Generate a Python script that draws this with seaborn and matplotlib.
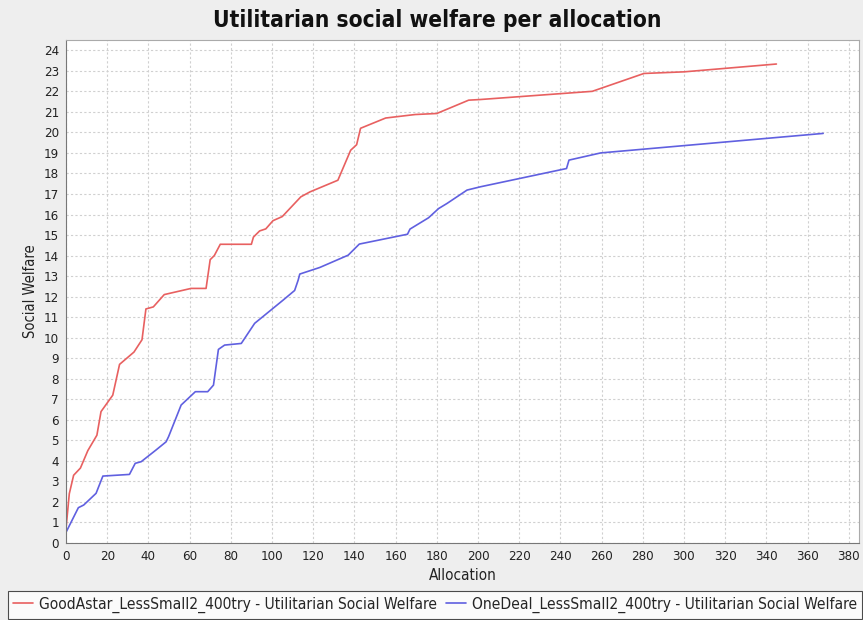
import matplotlib
matplotlib.use("Agg")
import matplotlib.pyplot as plt
import seaborn as sns
import pandas as pd
import numpy as np
from matplotlib.lines import Line2D

# ---- data ----
red_name = "GoodAstar_LessSmall2_400try - Utilitarian Social Welfare"
blue_name = "OneDeal_LessSmall2_400try - Utilitarian Social Welfare"

red_x = [0, 1.6, 3.7, 7, 10.6, 15, 17, 22.7, 26, 33, 36.9, 38.8, 42.4, 47.7, 60.7, 68, 70, 72, 74.9,
         90, 91, 94, 97, 100.5, 105, 114, 118.4, 132, 138.2, 141.1, 143, 155.2, 169.5, 180, 195.5,
         201, 255.5, 280.6, 300.2, 344.9]
red_y = [0.7, 2.4, 3.3, 3.65, 4.5, 5.25, 6.4, 7.2, 8.7, 9.3, 9.9, 11.4, 11.5, 12.1, 12.4, 12.4, 13.8,
         14.0, 14.55, 14.55, 14.9, 15.2, 15.3, 15.7, 15.9, 16.86, 17.1, 17.67, 19.13, 19.4, 20.2, 20.7,
         20.87, 20.92, 21.57, 21.6, 22.0, 22.87, 22.95, 23.33]

blue_x = [0, 6, 8.6, 14.6, 17.9, 30.8, 33.6, 36.5, 43.7, 48.6, 49.8, 55.9, 62.8, 68.8, 71.6, 74, 77,
          85.1, 91.6, 105.4, 111, 112.7, 113.5, 123.2, 137, 142.4, 165.8, 167, 176, 180.9, 185, 194.7,
          201.2, 243, 244.2, 259.6, 367.6]
blue_y = [0.52, 1.72, 1.85, 2.42, 3.26, 3.34, 3.88, 3.96, 4.53, 4.93, 5.18, 6.72, 7.37, 7.37, 7.69,
          9.43, 9.64, 9.72, 10.7, 11.83, 12.3, 12.8, 13.1, 13.42, 14.02, 14.56, 15.04, 15.29, 15.84,
          16.29, 16.54, 17.19, 17.35, 18.24, 18.65, 19.0, 19.95]

x_ticks = list(range(0, 381, 20))
y_ticks = list(range(0, 25, 1))

title = "Utilitarian social welfare per allocation"
x_label = "Allocation"
y_label = "Social Welfare"

df = pd.concat([
    pd.DataFrame({"x": red_x, "y": red_y, "series": red_name}),
    pd.DataFrame({"x": blue_x, "y": blue_y, "series": blue_name}),
], ignore_index=True)

sns.set_theme(style="white")
plt.rcParams['font.family'] = ['DejaVu Sans']
plt.rcParams['font.stretch'] = 'condensed'

bg = "#eeeeee"
fig = plt.figure(figsize=(8.63, 6.20), dpi=100, facecolor=bg)
ax = fig.add_axes([66 / 863, 1 - 543 / 620, (859 - 66) / 863, (543 - 40) / 620])
ax.set_facecolor("white")

palette = {red_name: "#e86060", blue_name: "#6060e0"}
sns.lineplot(data=df, x="x", y="y", hue="series", palette=palette, sort=False,
             estimator=None, linewidth=1.2, ax=ax, legend=False)

ax.set_xlim(0, 385)
ax.set_ylim(0, 24.5)
ax.set_xticks(x_ticks)
ax.set_yticks(y_ticks)
ax.set_xticklabels([str(t) for t in x_ticks], fontsize=9.5, fontstretch='condensed')
ax.set_yticklabels([str(t) for t in y_ticks], fontsize=9.5, fontstretch='condensed')
ax.tick_params(axis='both', which='major', length=3, width=0.8, color="#888888",
               direction='out', pad=2, labelcolor="#222222")
ax.grid(True, color="#d0d0d0", linestyle=(0, (2, 2)), linewidth=0.8)
for s in ax.spines.values():
    s.set_color("#aaaaaa")
    s.set_linewidth(0.8)
ax.spines['left'].set_color("#777777")
ax.spines['bottom'].set_color("#777777")

ax.set_xlabel(x_label, fontsize=11, fontstretch='condensed', labelpad=4, color="#222222")
ax.set_ylabel(y_label, fontsize=10.5, fontstretch='condensed', labelpad=4, color="#222222")

fig.text(437 / 863, 1 - 20 / 620, title, ha="center", va="center", fontsize=16.3,
         fontweight="bold", fontstretch='condensed', color="#111111")

handles = [Line2D([], [], color=palette[red_name], lw=1.2),
           Line2D([], [], color=palette[blue_name], lw=1.2)]
leg = fig.legend(handles, [red_name, blue_name], loc="center", ncol=2,
                 bbox_to_anchor=(435 / 863, 1 - 605 / 620), frameon=True, fancybox=False,
                 edgecolor="#222222", facecolor="white",
                 handlelength=1.3, handletextpad=0.35, columnspacing=0.6, borderpad=0.35,
                 borderaxespad=0,
                 prop={'stretch': 'condensed', 'size': 11.2})
leg.get_frame().set_linewidth(0.8)

fig.savefig("out.png", dpi=100, facecolor=bg)
